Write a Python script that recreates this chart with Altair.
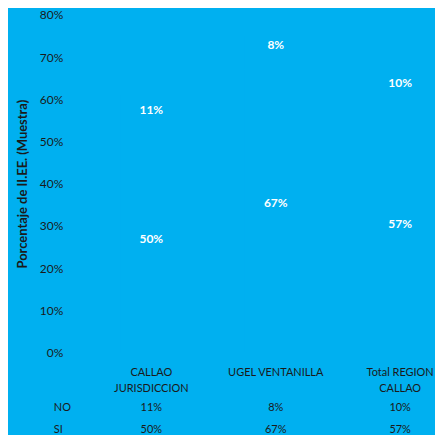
import altair as alt
import pandas as pd

categories = ["CALLAO|JURISDICCION", "UGEL VENTANILLA", "Total REGION|CALLAO"]
series = ["NO", "SI"]
no_values = [0.11, 0.08, 0.10]
si_values = [0.50, 0.67, 0.57]
y_ticks = [0.0, 0.1, 0.2, 0.3, 0.4, 0.5, 0.6, 0.7, 0.8]

rows = []
for i, c in enumerate(categories):
    rows.append({"cat": c, "serie": "SI", "value": si_values[i], "order": 0})
    rows.append({"cat": c, "serie": "NO", "value": no_values[i], "order": 1})
df = pd.DataFrame(rows)
hdr = pd.DataFrame({"serie": series})

BG = "#00B0F0"
TXT = "#1a1a1a"
FONT = "Lato"
W, H = 320, 339
row_y = {"NO": H + 56, "SI": H + 78}

x = alt.X(
    "cat:N", sort=categories,
    scale=alt.Scale(paddingInner=0.5, paddingOuter=0.03),
    axis=alt.Axis(title=None, labelAngle=0, labelExpr="split(datum.label, '|')",
                  domain=False, ticks=False, labelPadding=14, labelFontSize=11,
                  labelColor=TXT, labelFont=FONT, labelLineHeight=16, labelBaseline="top"),
)

base = alt.Chart(df).transform_stack(
    stack="value", groupby=["cat"], as_=["y0", "y1"], sort=[alt.SortField("order")]
).transform_calculate(mid="(datum.y0 + datum.y1) / 2")

bars = base.mark_bar(color=BG).encode(
    x=x,
    y=alt.Y("y0:Q", scale=alt.Scale(domain=[0, 0.8]),
            axis=alt.Axis(format="%", values=y_ticks, offset=47, domain=False, ticks=False,
                          grid=False, labelPadding=7, labelFontSize=12, labelColor=TXT,
                          labelFont=FONT, title="Porcentaje de II.EE. (Muestra)",
                          titleFont=FONT, titleFontSize=13, titleFontWeight="bold",
                          titleColor=TXT, titlePadding=10)),
    y2="y1:Q",
)

labels = base.mark_text(color="white", fontWeight="bold", fontSize=12, font=FONT, dy=-8).encode(
    x=x, y="mid:Q", text=alt.Text("value:Q", format=".0%")
)

layers = [bars, labels]
for s in series:
    layers.append(
        alt.Chart(df).transform_filter(alt.datum.serie == s).mark_text(
            fontSize=11, font=FONT, color=TXT, baseline="middle"
        ).encode(x=x, y=alt.value(row_y[s]), text=alt.Text("value:Q", format=".0%"))
    )
    layers.append(
        alt.Chart(hdr).transform_filter(alt.datum.serie == s).mark_text(
            fontSize=11, font=FONT, color=TXT, align="left", baseline="middle"
        ).encode(x=alt.value(-63), y=alt.value(row_y[s]), text="serie:N")
    )

chart = alt.layer(*layers).properties(
    width=W, height=H, padding={"left": 8, "top": 0, "right": 0, "bottom": 0}
).configure(background=BG).configure_view(stroke=None)

chart.save("out.html", embed_options={"renderer": "svg", "actions": False})
